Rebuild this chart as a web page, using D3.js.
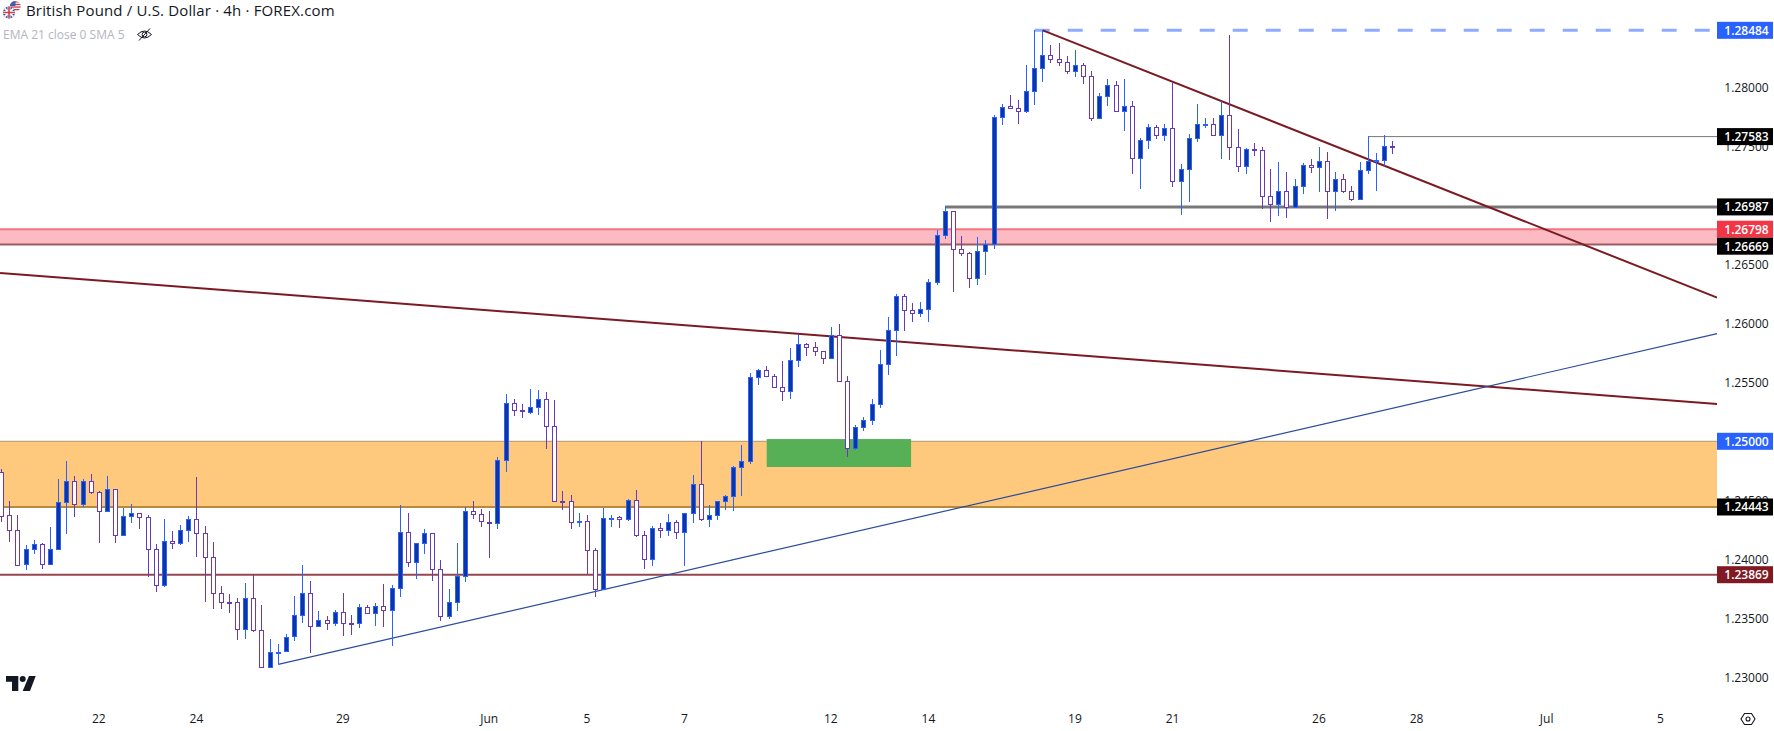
<!DOCTYPE html>
<html>
<head>
<meta charset="utf-8">
<script src="https://cdn.jsdelivr.net/npm/d3@7"></script>
<style>
  html, body { margin: 0; padding: 0; background: #fff; overflow: hidden; }
  text { font-family: "Open Sans", "Liberation Sans", sans-serif; }
</style>
</head>
<body>
<div id="chart-container"></div>
<script>
// 4h GBP/USD bars, oldest first
const opens = [
  1.24737,1.24372,1.24245,1.23957,1.24084,1.24126,1.23957,1.24084,1.24483,1.24661,
  1.24466,1.24661,1.24567,1.24406,1.24593,1.24203,1.24364,1.24389,1.24355,1.24084,
  1.23779,1.24152,1.24135,1.24245,1.24338,1.24220,1.24016,1.23711,1.23635,1.23635,
  1.23406,1.23669,1.23397,1.23084,1.23209,1.23219,1.23346,1.23525,1.23711,1.23431,
  1.23482,1.23457,1.23550,1.23457,1.23457,1.23592,1.23541,1.23601,1.23567,1.23753,
  1.24228,1.23974,1.24135,1.24220,1.23915,1.23516,1.23635,1.23858,1.24406,1.24380,
  1.24318,1.24304,1.24838,1.25321,1.25262,1.25250,1.25287,1.25355,1.25132,1.24490,
  1.24490,1.24316,1.24321,1.24075,1.23750,1.24346,1.24355,1.24338,1.24499,1.24202,
  1.23999,1.24261,1.24244,1.24312,1.24227,1.24389,1.24634,1.24338,1.24372,1.24490,
  1.24533,1.24779,1.24829,1.25542,1.25601,1.25550,1.25457,1.25423,1.25686,1.25821,
  1.25796,1.25762,1.25703,1.25903,1.25508,1.24940,1.25118,1.25177,1.25313,1.25652,
  1.25940,1.26228,1.26110,1.26084,1.26118,1.26347,1.26745,1.26949,1.26627,1.26593,
  1.26381,1.26610,1.26675,1.27746,1.27840,1.27823,1.27797,1.27967,1.28162,1.28272,
  1.28238,1.28213,1.28136,1.28187,1.28094,1.27738,1.27924,1.28018,1.27797,1.27840,
  1.27399,1.27551,1.27661,1.27594,1.27653,1.27204,1.27305,1.27568,1.27682,1.27687,
  1.27594,1.27763,1.27492,1.27331,1.27475,1.27466,1.27076,1.27009,1.27119,1.26983,
  1.27161,1.27339,1.27322,1.27373,1.27119,1.27221,1.27119,1.27051,1.27297,1.27373,
  1.27382,1.27500
];
const closes = [
  1.24369,1.24245,1.23954,1.24084,1.24126,1.23957,1.24084,1.24483,1.24661,1.24466,
  1.24661,1.24567,1.24406,1.24593,1.24203,1.24364,1.24389,1.24355,1.24084,1.23779,
  1.24152,1.24135,1.24245,1.24338,1.24220,1.24016,1.23711,1.23635,1.23630,1.23406,
  1.23669,1.23397,1.23084,1.23211,1.23214,1.23344,1.23525,1.23711,1.23431,1.23482,
  1.23457,1.23550,1.23457,1.23452,1.23592,1.23541,1.23601,1.23567,1.23753,1.24228,
  1.23974,1.24135,1.24220,1.23915,1.23516,1.23635,1.23858,1.24406,1.24381,1.24321,
  1.24304,1.24838,1.25321,1.25262,1.25259,1.25287,1.25355,1.25132,1.24490,1.24485,
  1.24312,1.24321,1.24075,1.23750,1.24346,1.24352,1.24338,1.24499,1.24202,1.23999,
  1.24261,1.24244,1.24312,1.24227,1.24389,1.24634,1.24338,1.24372,1.24490,1.24533,
  1.24779,1.24829,1.25542,1.25601,1.25550,1.25457,1.25423,1.25686,1.25821,1.25796,
  1.25762,1.25703,1.25903,1.25508,1.24940,1.25118,1.25177,1.25313,1.25652,1.25940,
  1.26228,1.26110,1.26084,1.26118,1.26347,1.26745,1.26949,1.26627,1.26593,1.26381,
  1.26610,1.26675,1.27746,1.27837,1.27823,1.27797,1.27967,1.28162,1.28272,1.28238,
  1.28213,1.28136,1.28187,1.28094,1.27738,1.27924,1.28018,1.27797,1.27840,1.27399,
  1.27551,1.27661,1.27594,1.27653,1.27204,1.27305,1.27568,1.27687,1.27687,1.27594,
  1.27763,1.27492,1.27331,1.27475,1.27466,1.27076,1.27009,1.27119,1.26983,1.27161,
  1.27339,1.27322,1.27373,1.27119,1.27221,1.27119,1.27051,1.27297,1.27373,1.27382,
  1.27500,1.27495
];
const highs = [
  1.24765,1.24494,1.24375,1.24121,1.24163,1.24138,1.24273,1.24680,1.24833,1.24706,
  1.24680,1.24723,1.24579,1.24706,1.24593,1.24434,1.24468,1.24389,1.24375,1.24129,
  1.24341,1.24240,1.24290,1.24367,1.24697,1.24282,1.24146,1.23773,1.23705,1.23671,
  1.23799,1.23866,1.23612,1.23324,1.23281,1.23366,1.23688,1.23951,1.23816,1.23561,
  1.23519,1.23570,1.23714,1.23527,1.23621,1.23612,1.23629,1.23790,1.23782,1.24460,
  1.24392,1.24135,1.24256,1.24220,1.23994,1.23748,1.24138,1.24440,1.24494,1.24425,
  1.24408,1.24866,1.25400,1.25358,1.25313,1.25443,1.25434,1.25417,1.25349,1.24578,
  1.24544,1.24391,1.24374,1.24092,1.24434,1.24374,1.24363,1.24510,1.24586,1.24236,
  1.24278,1.24307,1.24383,1.24329,1.24389,1.24714,1.25002,1.24459,1.24490,1.24544,
  1.24790,1.24968,1.25578,1.25612,1.25638,1.25570,1.25680,1.25790,1.25900,1.25833,
  1.25841,1.25762,1.25968,1.25994,1.25550,1.25137,1.25205,1.25355,1.25773,1.26053,
  1.26248,1.26245,1.26172,1.26180,1.26372,1.26791,1.26994,1.26949,1.26740,1.26605,
  1.26732,1.26706,1.27766,1.27859,1.27936,1.27893,1.28190,1.28487,1.28484,1.28359,
  1.28376,1.28266,1.28317,1.28204,1.28139,1.27950,1.28071,1.28054,1.28071,1.27885,
  1.27571,1.27690,1.27678,1.27690,1.28034,1.27351,1.27605,1.27859,1.27741,1.27741,
  1.27885,1.28444,1.27647,1.27486,1.27529,1.27495,1.27308,1.27368,1.27283,1.27223,
  1.27359,1.27393,1.27495,1.27452,1.27283,1.27266,1.27164,1.27368,1.27585,1.27441,
  1.27596,1.27546
];
const lows = [
  1.24319,1.24149,1.23943,1.23912,1.24045,1.23917,1.23957,1.24084,1.24217,1.24358,
  1.24443,1.24553,1.24138,1.24406,1.24138,1.24203,1.24307,1.24256,1.23850,1.23722,
  1.23765,1.24087,1.24121,1.24146,1.24019,1.23638,1.23578,1.23578,1.23547,1.23315,
  1.23324,1.23383,1.23084,1.23084,1.23109,1.23219,1.23307,1.23460,1.23205,1.23431,
  1.23400,1.23437,1.23349,1.23358,1.23417,1.23541,1.23434,1.23426,1.23265,1.23680,
  1.23934,1.23833,1.24045,1.23816,1.23477,1.23493,1.23561,1.23807,1.24341,1.24276,
  1.24010,1.24256,1.24739,1.25214,1.25197,1.25234,1.25222,1.24934,1.24490,1.24417,
  1.24256,1.24276,1.23874,1.23682,1.23739,1.24276,1.24264,1.24326,1.24191,1.23919,
  1.23945,1.24182,1.24199,1.24171,1.23945,1.24309,1.24321,1.24276,1.24332,1.24417,
  1.24408,1.24536,1.24807,1.25477,1.25550,1.25457,1.25344,1.25358,1.25629,1.25722,
  1.25722,1.25655,1.25703,1.25508,1.24866,1.24928,1.25087,1.25137,1.25282,1.25561,
  1.25722,1.25934,1.26011,1.26053,1.26011,1.26324,1.26714,1.26268,1.26571,1.26302,
  1.26325,1.26410,1.26630,1.27681,1.27823,1.27690,1.27783,1.27851,1.28046,1.28207,
  1.28181,1.28114,1.28088,1.28029,1.27715,1.27738,1.27842,1.27797,1.27630,1.27266,
  1.27139,1.27478,1.27563,1.27546,1.27156,1.26918,1.27028,1.27537,1.27656,1.27594,
  1.27393,1.27385,1.27283,1.27266,1.27418,1.26969,1.26859,1.26910,1.26893,1.26983,
  1.27096,1.27274,1.27113,1.26884,1.26952,1.27105,1.27037,1.27051,1.27266,1.27122,
  1.27334,1.27435
];

const priceTicks = [1.28, 1.275, 1.265, 1.26, 1.255, 1.245, 1.24, 1.235, 1.23];
const dateTickBars = [12, 24, 42, 60, 72, 84, 102, 114, 132, 144, 162, 174, 190, 204];
const dateTickLabels = ["22", "24", "29", "Jun", "5", "7", "12", "14", "19", "21", "26", "28", "Jul", "5"];

// drawings, in bar index / price
const orangeZone = [1.25, 1.24443];
const pinkZone = [1.26798, 1.26669];
const greenBox = { bars: [94.05, 111.8], prices: [1.25019, 1.24782] };
const supportLevel = 1.23869;
const grayLevel = { from: 116, price: 1.26987 };
const highLevel = { from: 127, price: 1.28484 };
const lastHighLevel = { from: 168, price: 1.27583 };
const fallingLine = [[128, 1.28484], [210.9, 1.26218]];
const longFallingLine = [[-0.2, 1.26427], [210.9, 1.25316]];
const risingLine = [[34, 1.23109], [210.9, 1.25913]];

const priceTags = [
  { price: 1.28484, color: "#2962ff" },
  { price: 1.27583, color: "#000000" },
  { price: 1.26987, color: "#000000" },
  { price: 1.26798, color: "#f23645" },
  { price: 1.26669, color: "#000000" },
  { price: 1.25, color: "#2962ff" },
  { price: 1.24443, color: "#000000" },
  { price: 1.23869, color: "#801922" },
];

const width = 1774;
const height = 731;
const plotWidth = 1717;
const plotHeight = 704;

const bars = opens.map((open, i) => ({
  i, open, close: closes[i], high: highs[i], low: lows[i], up: closes[i] >= open,
}));

const svg = d3
  .select("#chart-container")
  .append("svg")
  .attr("width", width)
  .attr("height", height)
  .style("display", "block");

const x = d3.scaleLinear().domain([0, 211]).range([1.7, 1.7 + 8.134 * 211]);
const y = d3.scaleLinear().domain([1.28741, 1.28741 - plotHeight / 11796]).range([0, plotHeight]);

svg.append("rect").attr("width", width).attr("height", height).attr("fill", "#ffffff");

const plot = svg.append("g");

// zones
const drawZone = (zone, fill, topColor, topWidth, bottomColor, bottomWidth) => {
  plot
    .append("rect")
    .attr("x", 0)
    .attr("y", y(zone[0]))
    .attr("width", plotWidth)
    .attr("height", y(zone[1]) - y(zone[0]))
    .attr("fill", fill);
  hLine(0, zone[0], topColor, topWidth);
  hLine(0, zone[1], bottomColor, bottomWidth);
};
const hLine = (fromX, price, color, lineWidth, dash) => {
  plot
    .append("line")
    .attr("x1", fromX)
    .attr("x2", plotWidth)
    .attr("y1", y(price))
    .attr("y2", y(price))
    .attr("stroke", color)
    .attr("stroke-width", lineWidth)
    .attr("stroke-dasharray", dash || null);
};

drawZone(orangeZone, "#fec97c", "#b0946f", 1, "#b98a3a", 2);
drawZone(pinkZone, "#fcbbc2", "#f6757f", 2, "#9c5c62", 2);

plot
  .append("rect")
  .attr("x", x(greenBox.bars[0]))
  .attr("y", y(greenBox.prices[0]))
  .attr("width", x(greenBox.bars[1]) - x(greenBox.bars[0]))
  .attr("height", y(greenBox.prices[1]) - y(greenBox.prices[0]))
  .attr("fill", "#58b056");

hLine(0, supportLevel, "#95474f", 2);
hLine(x(grayLevel.from), grayLevel.price, "#787878", 3);
hLine(x(lastHighLevel.from), lastHighLevel.price, "#787878", 1);
hLine(x(highLevel.from), highLevel.price, "#8fabff", 3, "15 18");

// trend lines
const trend = d3.line().x((d) => x(d[0])).y((d) => y(d[1]));
plot.append("path").attr("d", trend(longFallingLine)).attr("fill", "none").attr("stroke", "#7b1a22").attr("stroke-width", 2);
plot.append("path").attr("d", trend(fallingLine)).attr("fill", "none").attr("stroke", "#7b1a22").attr("stroke-width", 2);
plot.append("path").attr("d", trend(risingLine)).attr("fill", "none").attr("stroke", "#2b4c9b").attr("stroke-width", 1.2);

// candles
const upBorder = "#2962ff";
const upFill = "#0d35a3";
const downBorder = "#673ab7";
const candle = plot
  .selectAll("g.candle")
  .data(bars)
  .join("g")
  .attr("class", "candle")
  .attr("transform", (d) => `translate(${Math.floor(x(d.i))},0)`);

candle
  .append("rect")
  .attr("x", 0)
  .attr("width", 1)
  .attr("y", (d) => Math.round(y(d.high)))
  .attr("height", (d) => Math.max(1, Math.round(y(d.low)) - Math.round(y(d.high))))
  .attr("fill", (d) => (d.up ? upBorder : downBorder));

const bodyTop = (d) => Math.round(y(Math.max(d.open, d.close)));
const bodyHeight = (d) => Math.max(2, Math.round(y(Math.min(d.open, d.close))) - bodyTop(d) + 1);

candle
  .append("rect")
  .attr("x", -2)
  .attr("width", 5)
  .attr("y", bodyTop)
  .attr("height", bodyHeight)
  .attr("fill", (d) => (d.up ? upBorder : downBorder));

candle
  .filter((d) => bodyHeight(d) > 2)
  .append("rect")
  .attr("x", -1)
  .attr("width", 3)
  .attr("y", (d) => bodyTop(d) + 1)
  .attr("height", (d) => bodyHeight(d) - 2)
  .attr("fill", (d) => (d.up ? upFill : "#ffffff"));

// price axis
svg.append("rect").attr("x", plotWidth).attr("width", width - plotWidth).attr("height", height).attr("fill", "#ffffff");

const yAxis = svg
  .append("g")
  .attr("transform", `translate(${plotWidth},0)`)
  .call(d3.axisRight(y).tickValues(priceTicks).tickFormat(d3.format(".5f")).tickSize(0));
yAxis.select(".domain").remove();
yAxis
  .selectAll("text")
  .attr("x", 29.5)
  .attr("text-anchor", "middle")
  .attr("fill", "#131722")
  .style("font-size", "12px");

// date axis
const xAxis = svg
  .append("g")
  .attr("transform", "translate(-1,705)")
  .call(
    d3
      .axisBottom(x)
      .tickValues(dateTickBars)
      .tickFormat((d, i) => dateTickLabels[i])
      .tickSize(0)
  );
xAxis.select(".domain").remove();
xAxis.selectAll("text").attr("y", 9).attr("fill", "#131722").style("font-size", "12px");

// price tags, pushed down when they would overlap
const tagHeight = 17;
let tagBottom = -Infinity;
priceTags.forEach((tag) => {
  const cy = Math.max(y(tag.price), tagBottom + tagHeight / 2);
  tagBottom = cy + tagHeight / 2;
  svg
    .append("rect")
    .attr("x", plotWidth)
    .attr("y", cy - tagHeight / 2)
    .attr("width", 56)
    .attr("height", tagHeight)
    .attr("fill", tag.color);
  svg
    .append("text")
    .attr("x", plotWidth + 29.5)
    .attr("y", cy)
    .attr("dy", "0.36em")
    .attr("text-anchor", "middle")
    .attr("fill", "#ffffff")
    .style("font-size", "12px")
    .style("font-weight", 600)
    .text(d3.format(".5f")(tag.price));
});

// header
svg
  .append("text")
  .attr("x", 26)
  .attr("y", 16)
  .attr("fill", "#131722")
  .style("font-size", "15px")
  .style("letter-spacing", "0.16px")
  .text("British Pound / U.S. Dollar · 4h · FOREX.com");
svg
  .append("text")
  .attr("x", 3)
  .attr("y", 38.5)
  .attr("fill", "#b2b5be")
  .style("font-size", "12px")
  .text("EMA 21 close 0 SMA 5");

// flags
const defs = svg.append("defs");
defs.append("clipPath").attr("id", "us-clip").append("circle").attr("cx", 15.3).attr("cy", 6.3).attr("r", 5.4);
defs.append("clipPath").attr("id", "uk-clip").append("circle").attr("cx", 9).attr("cy", 12.5).attr("r", 6);

const us = svg.append("g").attr("clip-path", "url(#us-clip)");
us.append("rect").attr("x", 9).attr("y", 0).attr("width", 13).attr("height", 12).attr("fill", "#ffffff");
d3.range(4).forEach((k) => {
  us.append("rect").attr("x", 9).attr("y", 1.2 + k * 2.6).attr("width", 13).attr("height", 1.3).attr("fill", "#d8384a");
});
us.append("rect").attr("x", 9).attr("y", 0).attr("width", 6.5).attr("height", 6).attr("fill", "#3f5fa8");

const uk = svg.append("g").attr("clip-path", "url(#uk-clip)");
uk.append("circle").attr("cx", 9).attr("cy", 12.5).attr("r", 6.6).attr("fill", "#ffffff");
uk.append("rect").attr("x", 2).attr("y", 5).attr("width", 14).attr("height", 15).attr("fill", "#2f4f9e");
uk.append("path").attr("d", "M2,6L16,19M16,6L2,19").attr("stroke", "#ffffff").attr("stroke-width", 1.8);
uk.append("path").attr("d", "M9,5V20M2,12.5H16").attr("stroke", "#ffffff").attr("stroke-width", 3);
uk.append("path").attr("d", "M9,5V20M2,12.5H16").attr("stroke", "#d8384a").attr("stroke-width", 1.6);

// hidden-indicator eye
const eye = svg.append("g").attr("fill", "none").attr("stroke", "#131722").attr("stroke-width", 1);
eye.append("path").attr("d", "M137.5,34.5Q144.5,27.5 151.5,34.5Q144.5,41.5 137.5,34.5Z");
eye.append("circle").attr("cx", 144.5).attr("cy", 34.5).attr("r", 2.4);
eye.append("path").attr("d", "M139,40.5L150,28.5");

// logo
const logo = svg.append("g").attr("fill", "#131722");
logo.append("path").attr("d", "M6,676H18.3V691H12V681.7H6Z");
logo.append("circle").attr("cx", 22.7).attr("cy", 679).attr("r", 3);
logo.append("path").attr("d", "M29,676H35.7L30,691H22.7Z");

// settings gear
const gear = d3.path();
d3.range(6).forEach((k) => {
  const angle = (k * Math.PI) / 3;
  const gx = 1748 + 7 * Math.cos(angle);
  const gy = 719 + 6.4 * Math.sin(angle);
  if (k === 0) gear.moveTo(gx, gy);
  else gear.lineTo(gx, gy);
});
gear.closePath();
svg.append("path").attr("d", gear.toString()).attr("fill", "none").attr("stroke", "#131722").attr("stroke-width", 1.1);
svg.append("circle").attr("cx", 1748).attr("cy", 719).attr("r", 2).attr("fill", "none").attr("stroke", "#131722").attr("stroke-width", 1.1);
</script>
</body>
</html>
